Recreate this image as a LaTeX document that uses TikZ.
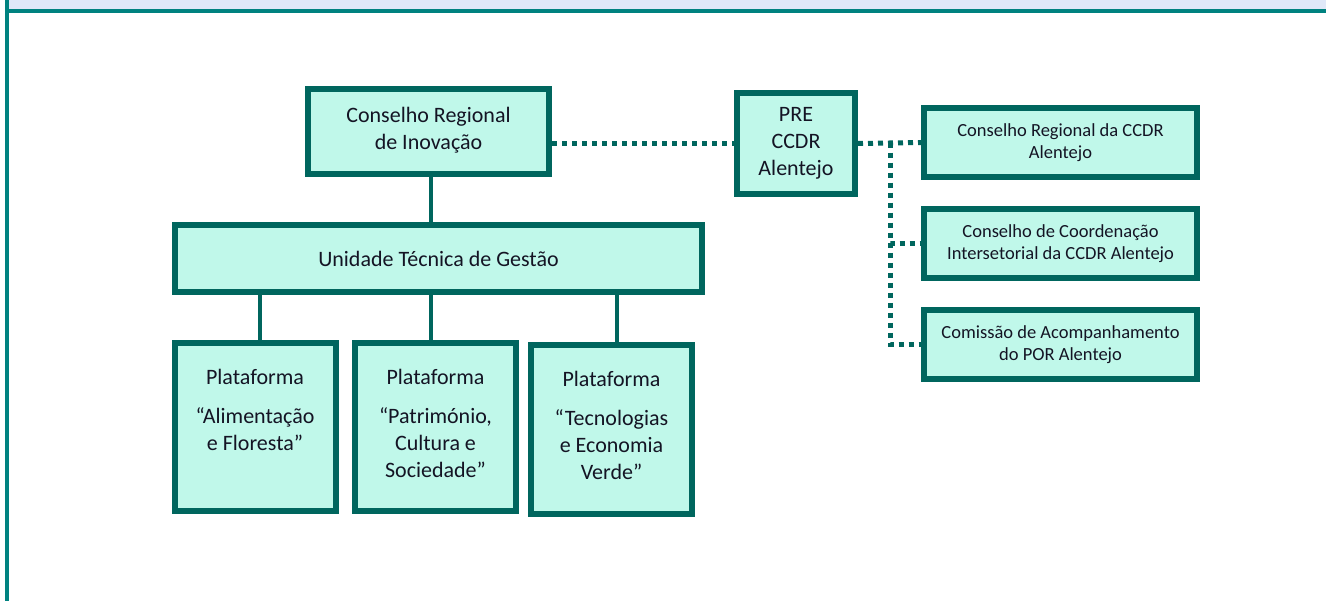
\documentclass[tikz,border=0pt]{standalone}
\usepackage{fontspec}
\setmainfont{Carlito}
\definecolor{boxline}{HTML}{00665E}
\definecolor{boxfill}{HTML}{C0F8EA}
\definecolor{frameteal}{HTML}{008280}
\definecolor{bandblue}{HTML}{E0E8F8}
\definecolor{textnavy}{HTML}{141424}
\begin{document}
\begin{tikzpicture}[x=1pt,y=-1pt,
	orgbox/.style={draw=boxline,fill=boxfill,line width=6pt,inner sep=0pt,align=center,text=textnavy,font=\fontsize{22}{27}\selectfont},
	subbox/.style={orgbox,minimum width=273pt,minimum height=69pt,font=\fontsize{18.5}{22}\selectfont},
	plabox/.style={orgbox,minimum width=161pt,minimum height=168pt},
	solidlink/.style={draw=boxline,line width=4pt},
	dotlink/.style={draw=boxline,line width=5pt,dash pattern=on 5pt off 5pt}]
	\useasboundingbox (0,0) rectangle (1326,601);
	\fill[bandblue] (9,0) rectangle (1326,9);
	\draw[frameteal,line width=4pt] (7,0) -- (7,601);
	\draw[frameteal,line width=4pt] (5,11) -- (1326,11);
	\node[orgbox,minimum width=241pt,minimum height=85pt] (cri) at (428.5,131.5) {Conselho Regional\\de Inovação\vspace{3pt}};
	\node[orgbox,minimum width=118pt,minimum height=101pt] (pre) at (796,143.5) {PRE\\CCDR\\Alentejo};
	\node[orgbox,minimum width=527pt,minimum height=67pt] (utg) at (438.5,258.5) {Unidade Técnica de Gestão};
	\node[subbox] (crc) at (1060.5,142.5) {Conselho Regional da CCDR\\Alentejo};
	\node[subbox] (cci) at (1060.5,243.5) {Conselho de Coordenação\\Intersetorial da CCDR Alentejo};
	\node[subbox] (cap) at (1060.5,344.5) {Comissão de Acompanhamento\\do POR Alentejo};
	\node[plabox] (pa) at (255,427) {\parbox[c][116pt][t]{155pt}{\centering Plataforma\\[12pt]“Alimentação\\e Floresta”}};
	\node[plabox] (pb) at (435.5,427) {\parbox[c][116pt][t]{155pt}{\centering Plataforma\\[12pt]“Património,\\Cultura e\\Sociedade”}};
	\node[plabox] (pc) at (611.5,429.5) {\parbox[c][116pt][t]{155pt}{\centering Plataforma\\[12pt]“Tecnologias\\e Economia\\Verde”}};
	\draw[solidlink] ([xshift=2.5pt]cri.south) -- ([xshift=2.5pt]cri.south |- utg.north);
	\draw[solidlink] ([xshift=5pt]pa.north |- utg.south) -- ([xshift=5pt]pa.north);
	\draw[solidlink] ([xshift=-4.5pt]pb.north |- utg.south) -- ([xshift=-4.5pt]pb.north);
	\draw[solidlink] ([xshift=5.5pt]pc.north |- utg.south) -- ([xshift=5.5pt]pc.north);
	\coordinate (bus) at (890,143);
	\draw[dotlink] (cri.east |- pre.west) -- (pre.west);
	\draw[dotlink] (pre.east) -- (crc.west);
	\draw[dotlink] (bus) |- (cci.west);
	\draw[dotlink] (bus) |- (cap.west);
\end{tikzpicture}
\end{document}
